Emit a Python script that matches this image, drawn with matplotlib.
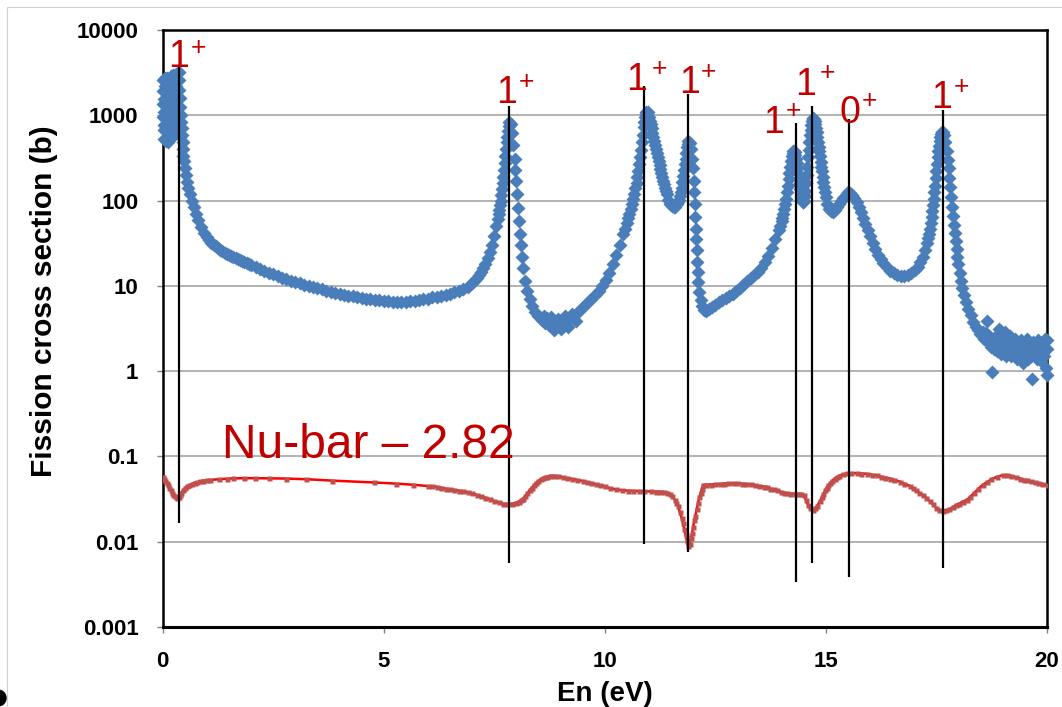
import matplotlib
matplotlib.use('Agg')
import matplotlib.pyplot as plt
from matplotlib.ticker import FixedLocator, FixedFormatter, NullLocator
from matplotlib.patches import Rectangle, Circle

plt.rcParams['font.family'] = ['Liberation Sans', 'DejaVu Sans']

# ---------------- data ----------------
# fission cross section (b) vs neutron energy (eV)
energy_blue = [
    0.000, 0.005, 0.010, 0.015, 0.020, 0.025, 0.030, 0.035, 0.040, 0.045,
    0.050, 0.055, 0.060, 0.065, 0.070, 0.075, 0.080, 0.085, 0.090, 0.095,
    0.100, 0.105, 0.110, 0.115, 0.120, 0.125, 0.130, 0.135, 0.140, 0.145,
    0.150, 0.155, 0.160, 0.165, 0.170,
    0.190, 0.195, 0.200, 0.205, 0.210, 0.215, 0.220, 0.225, 0.230, 0.235,
    0.240, 0.245, 0.250, 0.255, 0.260, 0.265, 0.270, 0.275, 0.280, 0.285,
    0.290, 0.295, 0.300, 0.305, 0.310, 0.315,
    0.330, 0.340, 0.350, 0.360, 0.370, 0.380, 0.390, 0.400, 0.410, 0.420,
    0.430, 0.440, 0.450, 0.460, 0.470, 0.480, 0.500, 0.520, 0.550, 0.580,
    0.620, 0.660, 0.700, 0.750, 0.800, 0.860, 0.930,
    1.00, 1.05, 1.10, 1.15, 1.20, 1.25, 1.30, 1.35, 1.40, 1.45,
    1.50, 1.55, 1.60, 1.65, 1.70, 1.75, 1.80, 1.85, 1.90, 1.95,
    2.0, 2.1, 2.2, 2.3, 2.4, 2.5, 2.6, 2.7, 2.8, 2.9,
    3.0, 3.1, 3.2, 3.3, 3.4, 3.5, 3.6, 3.7, 3.8, 3.9,
    4.0, 4.1, 4.2, 4.3, 4.4, 4.5, 4.6, 4.7, 4.8, 4.9,
    5.0, 5.1, 5.2, 5.3, 5.4, 5.5, 5.6, 5.7, 5.8, 5.9,
    6.0, 6.1, 6.2, 6.3, 6.4, 6.5, 6.6, 6.7, 6.8, 6.9,
    7.00, 7.05, 7.10, 7.15, 7.20, 7.25, 7.30, 7.35, 7.40, 7.45,
    7.50, 7.55, 7.58, 7.60, 7.615, 7.63, 7.645, 7.66, 7.675, 7.69,
    7.705, 7.72, 7.735, 7.75, 7.765, 7.78, 7.795, 7.81, 7.825, 7.84,
    7.87, 7.90, 7.93, 7.96, 7.98, 8.00, 8.02, 8.04, 8.06,
    8.08, 8.10, 8.13, 8.16, 8.20, 8.25, 8.30, 8.36, 8.42, 8.50,
    8.58, 8.62, 8.66, 8.70, 8.74, 8.78, 8.82, 8.86, 8.90, 8.94,
    8.98, 9.02, 9.06, 9.10, 9.14, 9.18, 9.22, 9.26, 9.30, 9.34,
    9.38, 9.46, 9.54, 9.62, 9.70, 9.78, 9.86, 9.94, 10.02, 10.10,
    10.18, 10.26, 10.34, 10.42, 10.46, 10.50, 10.53, 10.56, 10.59, 10.62,
    10.645, 10.67, 10.695, 10.72, 10.74, 10.76, 10.78, 10.80, 10.82, 10.84,
    10.86, 10.88, 10.895, 10.91, 10.925, 10.94, 10.97, 11.00, 11.02, 11.04,
    11.06, 11.08, 11.10, 11.12, 11.14, 11.16, 11.18, 11.20, 11.22, 11.24,
    11.26, 11.28, 11.30, 11.32, 11.34, 11.36, 11.38, 11.40, 11.44, 11.48,
    11.52, 11.56, 11.60, 11.64, 11.66, 11.68, 11.70, 11.72, 11.74, 11.76,
    11.78, 11.80, 11.815, 11.83, 11.845, 11.86, 11.875, 11.89,
    11.92, 11.95, 11.98, 12.00, 12.02, 12.03, 12.04, 12.05, 12.06, 12.07,
    12.08, 12.09, 12.10, 12.12, 12.14, 12.17, 12.20, 12.25, 12.30, 12.36,
    12.42, 12.50, 12.58, 12.66, 12.74, 12.82, 12.90, 12.98, 13.06, 13.14,
    13.22, 13.30, 13.38, 13.46, 13.54, 13.62, 13.70, 13.78, 13.86, 13.94,
    13.97, 14.00, 14.02, 14.04, 14.06, 14.08, 14.10, 14.12, 14.14, 14.16,
    14.18, 14.20, 14.22, 14.24, 14.255, 14.27, 14.285, 14.30, 14.315, 14.33,
    14.345, 14.36, 14.375, 14.39, 14.405, 14.42, 14.435, 14.45, 14.465, 14.48,
    14.495, 14.51, 14.525, 14.54, 14.555, 14.57, 14.585, 14.60, 14.615, 14.63,
    14.645, 14.66, 14.675, 14.69, 14.705, 14.72, 14.735, 14.75, 14.765, 14.78,
    14.795, 14.81, 14.825, 14.84, 14.855, 14.87, 14.885, 14.90, 14.915, 14.93,
    14.945, 14.96, 14.98, 15.00, 15.04, 15.08, 15.12, 15.16, 15.20, 15.25,
    15.30, 15.35, 15.40, 15.45, 15.50, 15.55, 15.60, 15.65, 15.70, 15.75,
    15.80, 15.85, 15.90, 15.95, 16.00, 16.06, 16.12, 16.18, 16.24, 16.30,
    16.38, 16.46, 16.54, 16.62, 16.70, 16.78, 16.86, 16.94, 17.02, 17.08,
    17.14, 17.20, 17.25, 17.30, 17.32, 17.34, 17.36, 17.38, 17.395, 17.41,
    17.425, 17.44, 17.455, 17.47, 17.485, 17.50, 17.515, 17.53, 17.545, 17.56,
    17.575, 17.59, 17.605, 17.62, 17.635, 17.65,
    17.68, 17.71, 17.74, 17.76, 17.78, 17.80, 17.82,
    17.84, 17.86, 17.88, 17.90, 17.92, 17.94, 17.96, 17.98, 18.00, 18.03,
    18.06, 18.09, 18.13, 18.17, 18.22, 18.28, 18.34, 18.40,
    18.45, 18.50, 18.55, 18.58, 18.62, 18.64, 18.67, 18.70, 18.73, 18.76,
    18.78, 18.81, 18.84, 18.87, 18.90, 18.93, 18.96, 18.99, 19.02, 19.05,
    19.08, 19.11, 19.14, 19.17, 19.20, 19.23, 19.26, 19.29, 19.32, 19.35,
    19.38, 19.41, 19.44, 19.46, 19.49, 19.52, 19.55, 19.58, 19.61, 19.64,
    19.66, 19.69, 19.72, 19.75, 19.78, 19.81, 19.84, 19.87, 19.90, 19.93,
    19.96, 19.98, 20.00, 20.00, 20.00,
]
sigma_fission = [
    2600, 1900, 1350, 950, 680, 520, 760, 1100, 1550, 2200,
    2750, 2000, 1400, 1000, 720, 500, 700, 1000, 1450, 2050,
    2700, 1950, 1350, 960, 680, 480, 660, 950, 1400, 2000,
    2650, 1850, 1300, 900, 620,
    2900, 2100, 1450, 1000, 700, 560, 800, 1150, 1650, 2300,
    3000, 2200, 1500, 1050, 740, 580, 820, 1200, 1700, 2400,
    3050, 2200, 1550, 1100, 800, 620,
    1900, 2600, 3100, 3200, 2600, 2000, 1600, 1250, 1000, 830,
    700, 580, 480, 400, 330, 290, 240, 200, 165, 140,
    120, 100, 85, 70, 59, 49, 42,
    37, 34.5, 32, 30.5, 29, 27.8, 26.5, 25.5, 24.5, 23.7,
    23, 22.4, 21.8, 21.2, 20.6, 20, 19.5, 19, 18.5, 18,
    17.6, 16.6, 15.8, 15.0, 14.3, 13.7, 13.1, 12.5, 12.0, 11.5,
    11.1, 10.7, 10.3, 10.0, 9.7, 9.4, 9.1, 8.8, 8.5, 8.3,
    8.1, 7.9, 7.7, 7.5, 7.3, 7.2, 7.1, 7.0, 6.9, 6.8,
    6.7, 6.6, 6.5, 6.5, 6.4, 6.5, 6.6, 6.7, 6.8, 7.0,
    7.1, 7.3, 7.4, 7.6, 7.8, 8.1, 8.4, 8.7, 9.1, 9.8,
    10.8, 11.5, 12.3, 13.3, 14.5, 16.2, 18, 21, 25, 30,
    38, 50, 60, 70, 78, 88, 100, 115, 135, 160,
    190, 230, 275, 330, 400, 480, 560, 650, 740, 830,
    800, 620, 450, 310, 230, 170, 120, 82, 57,
    40, 30, 22, 16, 11.5, 8.8, 7.0, 5.8, 5.0, 4.4,
    4.0, 4.4, 3.7, 4.2, 3.5, 4.3, 3.4, 3.0, 3.3, 4.1,
    3.4, 3.1, 3.6, 4.4, 3.8, 3.3, 4.1, 4.7, 4.4, 3.9,
    4.8, 5.3, 5.8, 6.4, 7.0, 7.8, 8.8, 10, 11.8, 14.3,
    18, 23, 30, 40, 47, 55, 62, 70, 80, 92,
    105, 120, 140, 160, 190, 220, 265, 320, 390, 480,
    590, 720, 830, 950, 1030, 1100, 1080, 950, 860, 780,
    700, 620, 560, 500, 450, 400, 360, 320, 290, 260,
    235, 210, 190, 170, 155, 140, 128, 118, 102, 92,
    86, 83, 84, 90, 95, 102, 112, 125, 142, 165,
    195, 230, 270, 310, 360, 420, 465, 500,
    470, 400, 310, 240, 170, 125, 90, 65, 47, 35,
    26, 19, 14.5, 11, 8.5, 6.8, 5.8, 5.2, 5.1, 5.3,
    5.6, 6.0, 6.4, 6.8, 7.2, 7.6, 8.1, 8.7, 9.4, 10.3,
    11.3, 12.3, 13.3, 14.5, 16.2, 18.8, 22.5, 28, 35, 45,
    50, 57, 63, 70, 80, 90, 105, 125, 150, 180,
    212, 250, 290, 330, 360, 380, 380, 370, 345, 310,
    275, 240, 210, 180, 155, 135, 120, 110, 102, 96,
    96, 100, 112, 130, 160, 200, 250, 320, 390, 480,
    580, 680, 770, 850, 900, 920, 895, 850, 780, 700,
    630, 560, 490, 430, 380, 330, 285, 250, 220, 190,
    165, 145, 125, 110, 90, 80, 75, 74, 77, 83,
    90, 98, 107, 117, 125, 122, 115, 106, 96, 85,
    74, 63, 53, 45, 38, 32, 27, 23, 20.5, 18.5,
    16.5, 15.0, 14.0, 13.4, 13.1, 13.0, 13.3, 14.0, 15.2, 16.8,
    19, 22, 26, 32, 36, 40, 47, 55, 64, 75,
    88, 105, 125, 150, 185, 220, 265, 320, 380, 440,
    500, 560, 600, 630, 640, 640,
    580, 480, 380, 300, 240, 185, 145,
    110, 85, 66, 52, 42, 34, 27, 22, 18, 14,
    11.5, 9.5, 7.8, 6.5, 5.4, 4.5, 3.8, 3.3,
    3.0, 2.7, 2.9, 2.4, 2.8, 3.9, 2.2, 2.6, 1.9, 0.97,
    2.3, 1.8, 2.5, 1.7, 2.2, 3.1, 1.6, 2.4, 1.8, 2.9,
    1.5, 2.2, 1.9, 2.6, 1.5, 2.1, 1.7, 2.4, 1.4, 2.0,
    1.6, 2.3, 1.5, 1.25, 2.0, 1.6, 2.4, 1.4, 1.9, 1.5,
    0.8, 2.2, 1.6, 2.0, 1.4, 2.3, 1.7, 1.3, 2.1, 1.5,
    2.4, 1.1, 0.9, 1.8, 2.3,
]

# nu-bar minus 2.82 vs energy (eV)
energy_nu = [
    0.00, 0.03, 0.06, 0.09, 0.12, 0.15, 0.18, 0.21, 0.24, 0.27,
    0.30, 0.33, 0.36, 0.39, 0.42, 0.46, 0.50, 0.55, 0.60, 0.66,
    0.72, 0.78, 0.85, 0.92, 1.00, 1.08, 1.27, 1.45, 1.60, 1.83,
    2.08, 2.40, 2.78, 3.25, 3.84, 4.77, 5.27, 5.67,
    6.00, 6.10, 6.20, 6.30, 6.40, 6.50, 6.60, 6.70, 6.80, 6.90,
    7.00, 7.10, 7.20, 7.30, 7.40, 7.50, 7.60, 7.70, 7.80, 7.90,
    8.00, 8.05, 8.10, 8.15, 8.20, 8.25, 8.30, 8.35, 8.40, 8.45,
    8.50, 8.55, 8.60, 8.65, 8.70, 8.77, 8.85, 8.95, 9.05, 9.15,
    9.25, 9.38, 9.50, 9.60, 9.70, 9.80, 9.90, 10.00, 10.12, 10.25,
    10.40, 10.52, 10.64, 10.77, 10.90, 11.05, 11.15, 11.25, 11.35, 11.42,
    11.48, 11.53, 11.58, 11.62, 11.66, 11.70, 11.74, 11.77, 11.80, 11.83,
    11.86, 11.89, 11.92, 11.95, 11.98, 12.00, 12.03, 12.05, 12.08, 12.11,
    12.14, 12.17, 12.20, 12.23, 12.30, 12.40, 12.50, 12.60, 12.70, 12.80,
    12.90, 13.00, 13.10, 13.20, 13.30, 13.40, 13.50, 13.60, 13.67, 13.75,
    13.82, 13.90, 13.98, 14.05, 14.12, 14.20, 14.30, 14.38, 14.45, 14.50,
    14.55, 14.60, 14.65, 14.71, 14.76, 14.81, 14.87, 14.91, 14.95, 14.99,
    15.02, 15.06, 15.10, 15.15, 15.20, 15.25, 15.30, 15.38, 15.48, 15.58,
    15.70, 15.80, 15.93, 16.05, 16.15, 16.25, 16.35, 16.45, 16.55, 16.68,
    16.78, 16.90, 16.98, 17.05, 17.12, 17.20, 17.28, 17.35, 17.42, 17.50,
    17.57, 17.65, 17.72, 17.80, 17.88, 17.95, 18.02, 18.10, 18.19, 18.27,
    18.35, 18.45, 18.55, 18.65, 18.75, 18.87, 19.00, 19.10, 19.20, 19.30,
    19.40, 19.48, 19.55, 19.65, 19.73, 19.80, 19.90, 20.00,
]
nubar_minus_282 = [
    0.058, 0.055, 0.052, 0.049, 0.046, 0.043, 0.040, 0.037, 0.035, 0.034,
    0.033, 0.0325, 0.033, 0.035, 0.037, 0.040, 0.0425, 0.0445, 0.046, 0.0475,
    0.049, 0.050, 0.051, 0.052, 0.0527, 0.053, 0.054, 0.0548, 0.0552, 0.0555,
    0.0555, 0.0553, 0.055, 0.054, 0.052, 0.0495, 0.048, 0.0465,
    0.045, 0.0445, 0.044, 0.043, 0.042, 0.041, 0.0405, 0.0398, 0.039, 0.038,
    0.037, 0.0355, 0.034, 0.0328, 0.0315, 0.030, 0.029, 0.028, 0.0277, 0.0278,
    0.0287, 0.0295, 0.0305, 0.032, 0.034, 0.037, 0.040, 0.043, 0.046, 0.049,
    0.0517, 0.054, 0.0557, 0.057, 0.058, 0.0594, 0.0594, 0.0585, 0.057, 0.0558,
    0.0547, 0.053, 0.0515, 0.050, 0.0487, 0.0472, 0.046, 0.0445, 0.0423, 0.041,
    0.040, 0.0397, 0.0394, 0.0392, 0.039, 0.0388, 0.0387, 0.0386, 0.0382, 0.0375,
    0.0365, 0.034, 0.031, 0.0288, 0.026, 0.022, 0.019, 0.0166, 0.014, 0.012,
    0.0101, 0.0088, 0.0093, 0.011, 0.0128, 0.0147, 0.018, 0.020, 0.024, 0.0284,
    0.033, 0.037, 0.042, 0.0463, 0.0465, 0.0468, 0.047, 0.0475, 0.048, 0.0483,
    0.0484, 0.0483, 0.048, 0.0475, 0.047, 0.046, 0.0452, 0.0443, 0.0437, 0.042,
    0.041, 0.040, 0.0385, 0.0375, 0.037, 0.0367, 0.0365, 0.0364, 0.0364, 0.035,
    0.031, 0.027, 0.0245, 0.0236, 0.0245, 0.0265, 0.0298, 0.033, 0.036, 0.040,
    0.043, 0.046, 0.0484, 0.052, 0.055, 0.057, 0.059, 0.0615, 0.0634, 0.0637,
    0.0635, 0.063, 0.0625, 0.061, 0.060, 0.058, 0.0565, 0.055, 0.053, 0.0506,
    0.048, 0.045, 0.0425, 0.040, 0.0375, 0.0353, 0.0325, 0.030, 0.0275, 0.025,
    0.0237, 0.0232, 0.0234, 0.024, 0.0255, 0.027, 0.028, 0.0295, 0.0309, 0.0335,
    0.037, 0.0415, 0.0463, 0.050, 0.054, 0.0575, 0.0602, 0.0605, 0.059, 0.057,
    0.055, 0.0535, 0.0523, 0.051, 0.050, 0.049, 0.0477, 0.0463,
]

# resonance markers: energy (eV), vertical line extent (b), spin-parity label
res_energy = [0.36, 7.84, 10.89, 11.89, 14.32, 14.70, 15.52, 17.66]
res_line_top = [3680, 1285, 2205, 1778, 813, 1285, 905, 1153]
res_line_bottom = [0.0166, 0.0056, 0.0094, 0.0076, 0.0034, 0.0056, 0.0039, 0.0049]
res_spin = ['1', '1', '1', '1', '1', '1', '0', '1']

# label placement (digit baseline and superscript plus)
label_digit_x = [0.35, 7.77, 10.73, 11.91, 13.81, 14.55, 15.55, 17.61]
label_digit_y = [3680, 1393, 1977, 1826, 620, 1730, 813, 1218]
label_plus_x = [0.80, 8.24, 11.23, 12.34, 14.26, 15.03, 16.00, 18.08]
label_plus_y = [6150, 2456, 3490, 3220, 1123, 3130, 1471, 2148]

x_ticks = [0, 5, 10, 15, 20]
y_ticks = [1e4, 1e3, 1e2, 1e1, 1e0, 1e-1, 1e-2, 1e-3]
y_tick_labels = ['10000', '1000', '100', '10', '1', '0.1', '0.01', '0.001']

# ---------------- figure ----------------
fig = plt.figure(figsize=(10.62, 7.07), dpi=100)
ax = fig.add_axes([0.1532, 0.1132, 0.8324, 0.8444])
ax.set_yscale('log')
ax.set_xlim(0, 20)
ax.set_ylim(1e-3, 1e4)

ax.plot(energy_blue, sigma_fission, ls='none', marker='D', ms=7.2,
        mfc='#4a7ebb', mec='none', zorder=3, clip_on=False)
ax.plot(energy_nu, nubar_minus_282, color='#ff0000', lw=1.8, marker='s',
        ms=3.6, mfc='#c0504d', mec='none', zorder=3)
ax.vlines(res_energy, res_line_bottom, res_line_top, colors='black',
          lw=1.6, zorder=4)

red = '#c00000'
for i in range(len(res_spin)):
    ax.text(label_digit_x[i], label_digit_y[i], res_spin[i], fontsize=27,
            color=red, ha='center', va='baseline', zorder=5)
    ax.text(label_plus_x[i], label_plus_y[i], '+', fontsize=19,
            color=red, ha='center', va='center', zorder=5)

ax.text(1.35, 0.096, 'Nu-bar \u2013 2.82', fontsize=34.5, color=red,
        ha='left', va='baseline', zorder=5)

ax.xaxis.set_major_locator(FixedLocator(x_ticks))
ax.yaxis.set_major_locator(FixedLocator(y_ticks))
ax.yaxis.set_major_formatter(FixedFormatter(y_tick_labels))
ax.yaxis.set_minor_locator(NullLocator())
ax.xaxis.set_minor_locator(NullLocator())
ax.tick_params(axis='both', direction='out', length=4.5, width=1,
               color='#808080', pad=13, labelsize=16)
for lab in ax.get_xticklabels() + ax.get_yticklabels():
    lab.set_fontweight('bold')

ax.yaxis.grid(True, color='#a6a6a6', lw=1.2)
ax.set_axisbelow(True)
for s in ax.spines.values():
    s.set_linewidth(1.8)
    s.set_color('black')
ax.spines['bottom'].set_linewidth(2.2)

ax.set_xlabel('En (eV)', fontsize=20, fontweight='bold')
ax.xaxis.set_label_coords(0.5, -0.09)
ax.set_ylabel('Fission cross section (b)', fontsize=21.5, fontweight='bold')
ax.yaxis.set_label_coords(-0.118, 0.545)

# outer frame of the slide
fig.add_artist(Rectangle((7 / 1062, -0.1), 2.0, 0.990 + 0.1,
                         transform=fig.transFigure, fill=False,
                         ec='#d0d0d0', lw=0.8))
fig.add_artist(Circle((-0.02, 0.09), 0.08, transform=fig.dpi_scale_trans,
                      color='black'))

fig.savefig('out.png', dpi=100)
